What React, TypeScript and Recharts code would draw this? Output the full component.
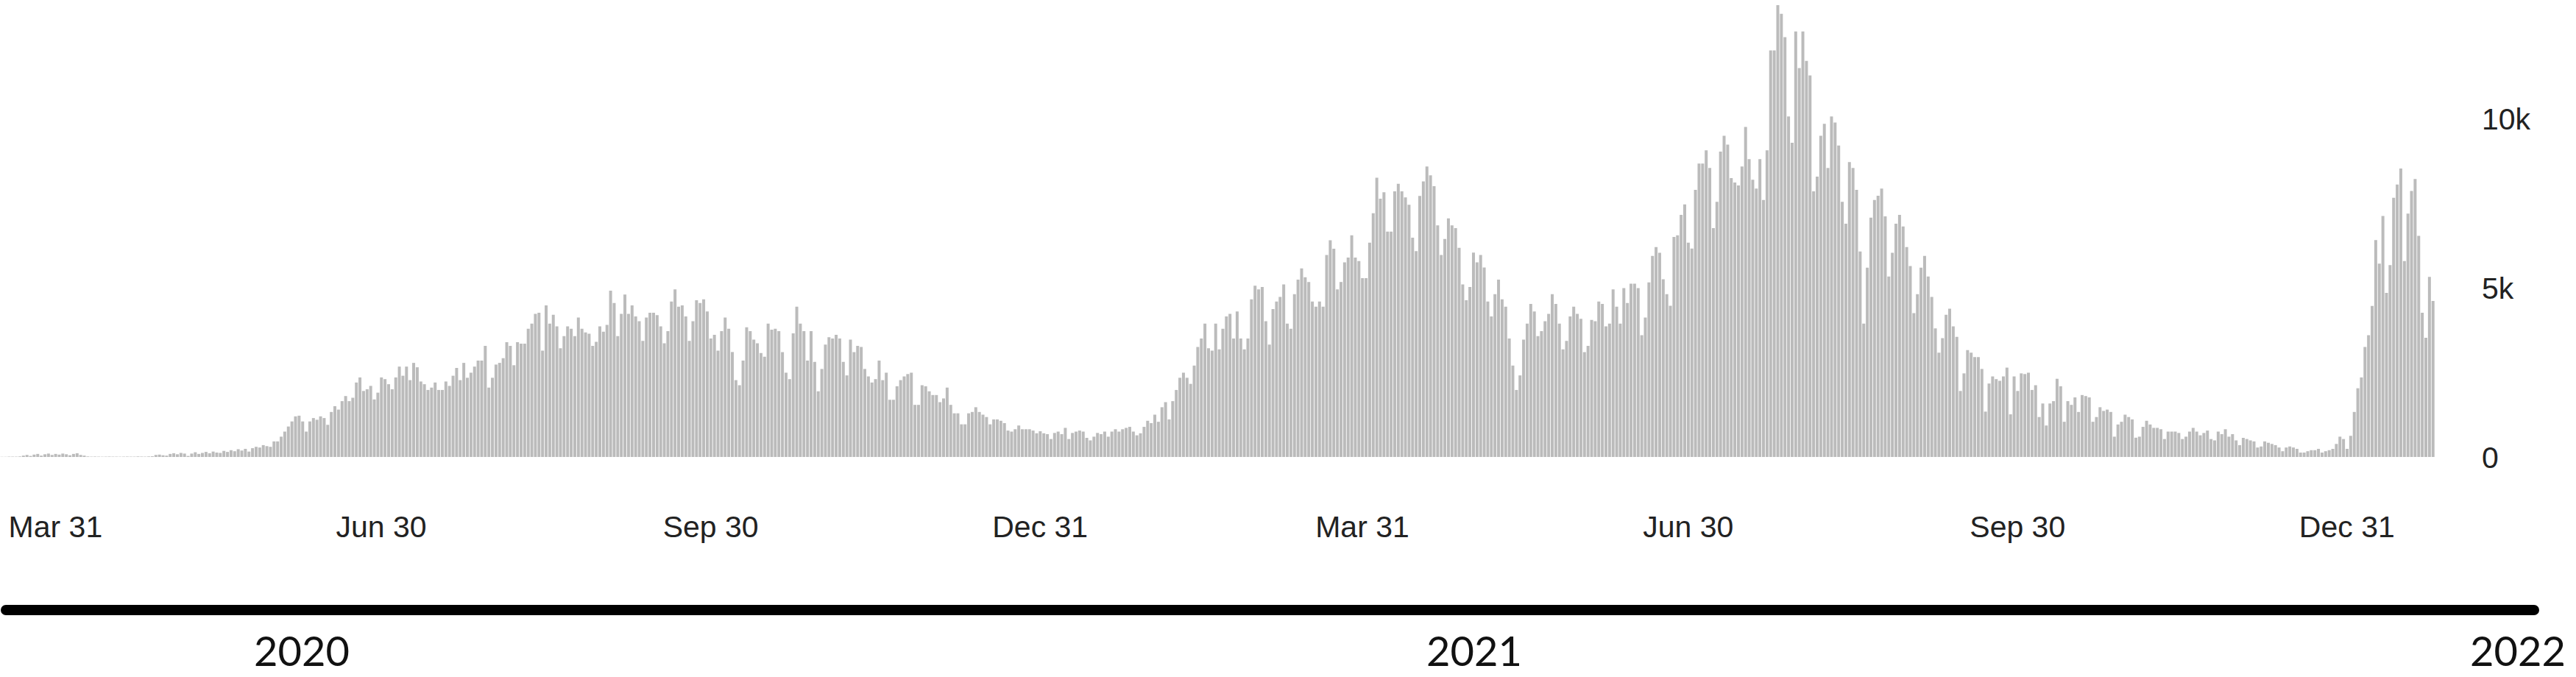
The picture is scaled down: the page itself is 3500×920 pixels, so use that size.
import { BarChart, Bar, XAxis, YAxis } from 'recharts'

// daily new cases, one array per calendar month
const mar2020 = [5, 8, 10, 12, 10, 15, 40, 60, 30, 70, 90, 40, 80, 100, 60, 90]
const apr2020 = [70, 100, 80, 50, 90, 110, 60, 40, 15, 10, 12, 10, 8, 10, 12, 10, 10, 8, 10, 12, 10, 10, 15, 12, 10, 15, 20, 60, 70, 50]
const may2020 = [40, 90, 110, 80, 120, 100, 30, 100, 140, 90, 120, 150, 110, 160, 130, 120, 180, 150, 200, 170, 230, 190, 240, 160, 260, 300, 280, 350, 320, 300, 460]
const jun2020 = [460, 600, 750, 900, 1050, 1200, 1220, 1050, 750, 1050, 1150, 1100, 1200, 1150, 950, 1330, 1500, 1400, 1650, 1800, 1650, 1750, 2200, 2350, 1950, 2000, 2100, 1700, 1900, 2350]
const jul2020 = [2300, 2150, 2000, 2350, 2670, 2400, 2670, 2270, 2780, 2650, 2230, 2150, 1980, 2050, 2200, 1980, 1980, 2230, 2100, 2400, 2630, 2270, 2780, 2340, 2490, 2670, 2850, 2850, 3280, 2050, 2340]
const aug2020 = [2730, 2780, 2920, 3390, 3280, 2710, 3390, 3350, 3350, 3790, 3940, 4230, 4260, 3140, 4480, 3940, 4200, 3860, 3210, 3570, 3860, 3790, 3570, 4120, 3790, 3680, 3640, 3280, 3400, 3860, 3700]
const sep2020 = [3900, 4915, 4550, 3570, 4230, 4800, 4230, 4480, 4150, 4010, 3430, 4120, 4260, 4260, 4190, 3860, 3360, 3720, 4590, 4950, 4440, 4480, 4150, 3430, 4010, 4630, 4550, 4660, 4300, 3500]
const oct2020 = [3610, 3140, 3720, 4120, 3790, 3100, 2270, 2120, 2850, 3830, 3720, 3470, 3360, 3070, 2960, 3940, 3760, 3790, 3720, 3100, 2490, 2300, 3650, 4440, 3940, 3720, 2850, 3720, 2810, 1940, 2600]
const nov2020 = [3320, 3540, 3500, 3610, 3500, 2810, 2410, 3470, 3100, 3280, 3250, 2600, 2380, 2200, 2300, 2850, 2270, 2490, 1690, 1690, 2090, 2270, 2380, 2450, 2490, 1540, 1540, 2120, 2090, 1940]
const dec2020 = [1830, 1830, 1620, 1730, 2050, 1540, 1290, 1290, 965, 965, 1290, 1330, 1470, 1330, 1250, 1180, 965, 1110, 1110, 1070, 1000, 780, 750, 820, 930, 820, 820, 820, 780, 700, 760]
const jan2021 = [700, 675, 530, 710, 750, 675, 860, 530, 710, 750, 780, 750, 565, 490, 600, 710, 675, 750, 600, 750, 820, 750, 820, 860, 890, 750, 640, 700, 890, 1070, 1000]
const feb2021 = [1250, 1040, 1470, 1620, 1110, 1650, 1980, 2340, 2490, 2340, 2160, 2700, 3250, 3500, 3940, 3210, 3140, 3940, 3180, 3790, 4150, 4230, 3500, 4300, 3500, 3180, 3500, 4660]
const mar2021 = [5060, 4950, 5020, 4010, 3320, 4370, 4590, 4730, 5100, 3940, 3790, 4810, 5240, 5570, 5310, 5170, 4590, 4440, 4590, 4440, 5970, 6400, 6150, 4950, 5170, 5750, 5890, 6550, 5890, 5790, 5280]
const apr2021 = [5280, 6330, 7200, 8250, 7630, 7820, 6660, 6660, 7850, 8070, 7850, 7670, 7450, 6480, 6080, 7710, 8140, 8580, 8320, 8000, 6840, 5970, 6440, 7050, 6840, 6760, 6180, 5100, 4630, 5020]
const may2021 = [6040, 5750, 5970, 5600, 4590, 4150, 4810, 5240, 4660, 4440, 3500, 2700, 1980, 2410, 3470, 3940, 4520, 4300, 3570, 3720, 4010, 4230, 4810, 4520, 3940, 3180, 3430, 4150, 4440, 4230, 4080]
const jun2021 = [3100, 3280, 4050, 4010, 4590, 4520, 3860, 3940, 4950, 4440, 3940, 4990, 4550, 5120, 5120, 4990, 3600, 4120, 5160, 5940, 6200, 6030, 5250, 4810, 4470, 6500, 6550, 7150, 7460, 6330]
const jul2021 = [6160, 7890, 8670, 8670, 9060, 8540, 6760, 7540, 9020, 9490, 9230, 8240, 8110, 8020, 8580, 9750, 8800, 8190, 7930, 8800, 7590, 9060, 12010, 12010, 13350, 13090, 12400, 10060, 9280, 12570, 11490]
const aug2021 = [12570, 11700, 11270, 7850, 8280, 9490, 9840, 8540, 10060, 9880, 9200, 7540, 6890, 8710, 8540, 7890, 6070, 3940, 5590, 7070, 7590, 7720, 7930, 7110, 5330, 6030, 6890, 7150, 6810, 6200, 5640]
const sep2021 = [4250, 4810, 5590, 5940, 5330, 4730, 3800, 3080, 3510, 4200, 4380, 3860, 3550, 1950, 2470, 3160, 3080, 2950, 2950, 2600, 1340, 2170, 2380, 2300, 2250, 2380, 2640, 1260, 2380, 1950]
const oct2021 = [2470, 2450, 2490, 1980, 2120, 1180, 1580, 930, 1580, 1650, 2310, 2090, 1040, 1650, 1540, 1760, 1330, 1830, 1800, 1760, 1040, 1180, 1470, 1360, 1400, 1330, 600, 960, 1040, 1250, 1180]
const nov2021 = [1110, 570, 600, 890, 1070, 960, 860, 860, 820, 530, 750, 750, 750, 710, 530, 600, 750, 860, 750, 640, 710, 780, 530, 490, 750, 675, 820, 600, 675, 490]
const dec2021 = [350, 565, 530, 490, 460, 280, 310, 460, 420, 385, 350, 280, 170, 280, 310, 280, 240, 130, 130, 170, 200, 200, 240, 130, 170, 200, 240, 385, 600, 530, 240]
const jan2022 = [625, 1330, 2030, 2350, 3250, 3600, 4460, 6410, 5710, 7120, 4850, 5670, 7660, 8050, 8520, 5790, 7190, 7860, 8210, 6530, 4260, 3520, 5320, 4610]

const months = [
  { year: 2020, month: 3, firstDay: 16, values: mar2020 },
  { year: 2020, month: 4, firstDay: 1, values: apr2020 },
  { year: 2020, month: 5, firstDay: 1, values: may2020 },
  { year: 2020, month: 6, firstDay: 1, values: jun2020 },
  { year: 2020, month: 7, firstDay: 1, values: jul2020 },
  { year: 2020, month: 8, firstDay: 1, values: aug2020 },
  { year: 2020, month: 9, firstDay: 1, values: sep2020 },
  { year: 2020, month: 10, firstDay: 1, values: oct2020 },
  { year: 2020, month: 11, firstDay: 1, values: nov2020 },
  { year: 2020, month: 12, firstDay: 1, values: dec2020 },
  { year: 2021, month: 1, firstDay: 1, values: jan2021 },
  { year: 2021, month: 2, firstDay: 1, values: feb2021 },
  { year: 2021, month: 3, firstDay: 1, values: mar2021 },
  { year: 2021, month: 4, firstDay: 1, values: apr2021 },
  { year: 2021, month: 5, firstDay: 1, values: may2021 },
  { year: 2021, month: 6, firstDay: 1, values: jun2021 },
  { year: 2021, month: 7, firstDay: 1, values: jul2021 },
  { year: 2021, month: 8, firstDay: 1, values: aug2021 },
  { year: 2021, month: 9, firstDay: 1, values: sep2021 },
  { year: 2021, month: 10, firstDay: 1, values: oct2021 },
  { year: 2021, month: 11, firstDay: 1, values: nov2021 },
  { year: 2021, month: 12, firstDay: 1, values: dec2021 },
  { year: 2022, month: 1, firstDay: 1, values: jan2022 },
]

const MONTH_NAMES = ['Jan', 'Feb', 'Mar', 'Apr', 'May', 'Jun', 'Jul', 'Aug', 'Sep', 'Oct', 'Nov', 'Dec']
const xTicks = ['2020-03-31', '2020-06-30', '2020-09-30', '2020-12-31', '2021-03-31', '2021-06-30', '2021-09-30', '2021-12-31']
const yTicks = [0, 5000, 10000]
const yearLabels = ['2020', '2021', '2022']

const pad = (n: number) => String(n).padStart(2, '0')

const data = months.flatMap(({ year, month, firstDay, values }) =>
  values.map((cases, i) => ({ date: `${year}-${pad(month)}-${pad(firstDay + i)}`, cases }))
)

const formatDate = (d: string) => {
  const [, m, day] = d.split('-')
  return `${MONTH_NAMES[Number(m) - 1]} ${Number(day)}`
}
const formatK = (v: number) => (v === 0 ? '0' : `${v / 1000}k`)

const tickStyle = { fontSize: 41, fill: '#222', fontFamily: '"Liberation Sans", Arial, sans-serif' }

export default function App() {
  return (
    <div style={{ position: 'absolute', left: 0, top: 0, width: 3500, height: 920, background: '#fff', overflow: 'hidden' }}>
      <BarChart width={3500} height={760} data={data} margin={{ top: 0, right: 0, bottom: 0, left: 0 }} barCategoryGap={0.6}>
        <XAxis
          dataKey="date"
          ticks={xTicks}
          interval={0}
          tickFormatter={formatDate}
          axisLine={false}
          tickLine={false}
          tickSize={0}
          tickMargin={80}
          height={139}
          tick={tickStyle}
        />
        <YAxis
          orientation="right"
          width={192}
          domain={[0, 13500]}
          ticks={yTicks}
          tickFormatter={formatK}
          axisLine={false}
          tickLine={false}
          tickSize={0}
          tickMargin={64}
          tick={tickStyle}
        />
        <Bar dataKey="cases" fill="#bbbbbb" isAnimationActive={false} />
      </BarChart>
      <svg width={3500} height={920} style={{ position: 'absolute', left: 0, top: 0 }}>
        <line x1={8} y1={829} x2={3443} y2={829} stroke="#000" strokeWidth={14} strokeLinecap="round" />
        <g fontFamily="Lato, sans-serif" fontSize={56} fill="#111" textAnchor="middle">
          <text x={410} y={905}>{yearLabels[0]}</text>
          <text x={2003} y={905}>{yearLabels[1]}</text>
          <text x={3421} y={905}>{yearLabels[2]}</text>
        </g>
      </svg>
    </div>
  )
}
